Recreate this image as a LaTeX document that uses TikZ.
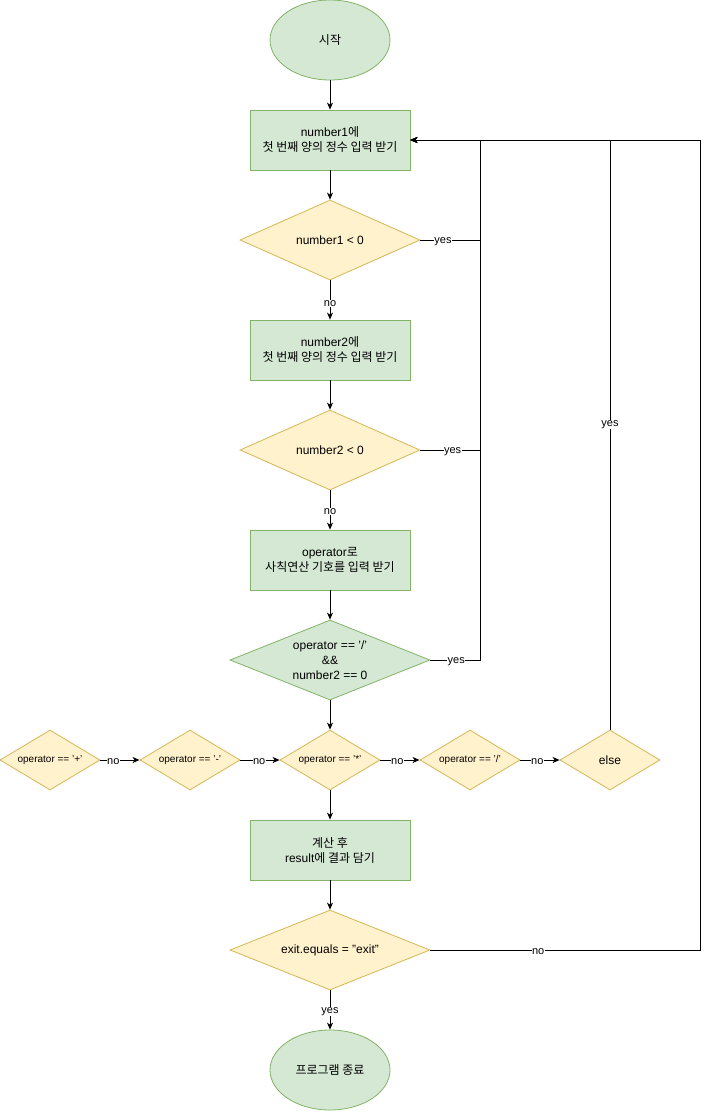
\documentclass[tikz,border=0pt]{standalone}
\usepackage{fontspec}
\setmainfont{Liberation Sans}
\newfontfamily\kr{Noto Sans CJK KR}
\usetikzlibrary{shapes.geometric,arrows.meta}

\definecolor{boxfill}{HTML}{D5E8D4}
\definecolor{boxline}{HTML}{82B366}
\definecolor{askfill}{HTML}{FFF2CC}
\definecolor{askline}{HTML}{D6B656}

\begin{document}
\begin{tikzpicture}[
    x=1pt, y=-1pt,
    font=\fontsize{12}{15}\selectfont,
    terminal/.style={ellipse, draw=boxline, fill=boxfill, line width=0.8pt,
      minimum width=120, minimum height=80, inner sep=0},
    process/.style={rectangle, draw=boxline, fill=boxfill, line width=0.8pt,
      minimum width=160, minimum height=60, align=center, inner sep=0},
    decision/.style={diamond, draw=askline, fill=askfill, line width=0.8pt,
      minimum width=180, minimum height=80, aspect=2.25, inner sep=0, align=center},
    small/.style={decision, minimum width=100, minimum height=60, aspect=1.67,
      font=\fontsize{10}{12}\selectfont},
    arrow/.style={-{Stealth[length=7pt, width=6pt, inset=2pt]}, line width=0.8pt},
    elabel/.style={fill=white, inner sep=0.5pt, yshift=-1.5pt,
      font=\fontsize{11}{13}\selectfont},
  ]
   \useasboundingbox (0, 0) rectangle (709, 1112);

   % nodes
   \node[terminal] (start) at (330, 40) {\kr 시작};
   \node[process] (read1) at (330, 140) {number1{\kr 에}\\{\kr 첫 번째 양의 정수 입력 받기}};
   \node[decision] (neg1) at (330, 240) {number1 < 0};
   \node[process] (read2) at (330, 350) {number2{\kr 에}\\{\kr 첫 번째 양의 정수 입력 받기}};
   \node[decision] (neg2) at (330, 450) {number2 < 0};
   \node[process] (readop) at (330, 560) {operator{\kr 로}\\{\kr 사칙연산 기호를 입력 받기}};
   \node[decision, fill=boxfill, draw=boxline, minimum width=200, aspect=2.5]
       (divzero) at (330, 660) {operator == '/'\\\&\&\\number2 == 0};
   \node[small] (opplus) at (50, 760) {operator == '+'};
   \node[small] (opminus) at (190, 760) {operator == '-'};
   \node[small] (optimes) at (330, 760) {operator == '*'};
   \node[small] (opdiv) at (470, 760) {operator == '/'};
   \node[small, font=\fontsize{12}{15}\selectfont] (opelse) at (610, 760) {else};
   \node[process] (calc) at (330, 850) {{\kr 계산 후}\\result{\kr 에 결과 담기}};
   \node[decision, minimum width=200, aspect=2.5] (quit) at (330, 950) {exit.equals = "exit"};
   \node[terminal] (stop) at (330, 1070) {\kr 프로그램 종료};

   % loop corners
   \coordinate (backA) at (480, 140);
   \coordinate (backB) at (700, 140);

   % draw diagram
   \draw[arrow] (start) -- (read1);
   \draw[arrow] (read1) -- (neg1);
   \draw[arrow] (neg1) -- node[elabel, pos=0.55] {no} (read2);
   \draw[arrow] (read2) -- (neg2);
   \draw[arrow] (neg2) -- node[elabel, pos=0.5] {no} (readop);
   \draw[arrow] (readop) -- (divzero);
   \draw[arrow] (divzero) -- (optimes);
   \draw[arrow] (optimes) -- (calc);
   \draw[arrow] (calc) -- (quit);
   \draw[arrow] (quit) -- node[elabel, pos=0.5] {yes} (stop);

   \draw[arrow] (opplus) -- node[elabel, pos=0.33] {no} (opminus);
   \draw[arrow] (opminus) -- node[elabel, pos=0.48] {no} (optimes);
   \draw[arrow] (optimes) -- node[elabel, pos=0.43] {no} (opdiv);
   \draw[arrow] (opdiv) -- node[elabel, pos=0.43] {no} (opelse);

   % back to the first input
   \draw[arrow] (neg1.east) -| node[elabel, pos=0.19] {yes} (backA) -- (read1.east);
   \draw[arrow] (neg2.east) -| node[elabel, pos=0.27] {yes} (backA) -- (read1.east);
   \draw[arrow] (divzero.east) -| node[elabel, pos=0.26] {yes} (backA) -- (read1.east);
   \draw[arrow] (opelse.north) |- node[elabel, pos=0.26] {yes} (read1.east);
   \draw[arrow] (quit.east) -| node[elabel, pos=0.2] {no} (backB) -- (read1.east);
\end{tikzpicture}
\end{document}
